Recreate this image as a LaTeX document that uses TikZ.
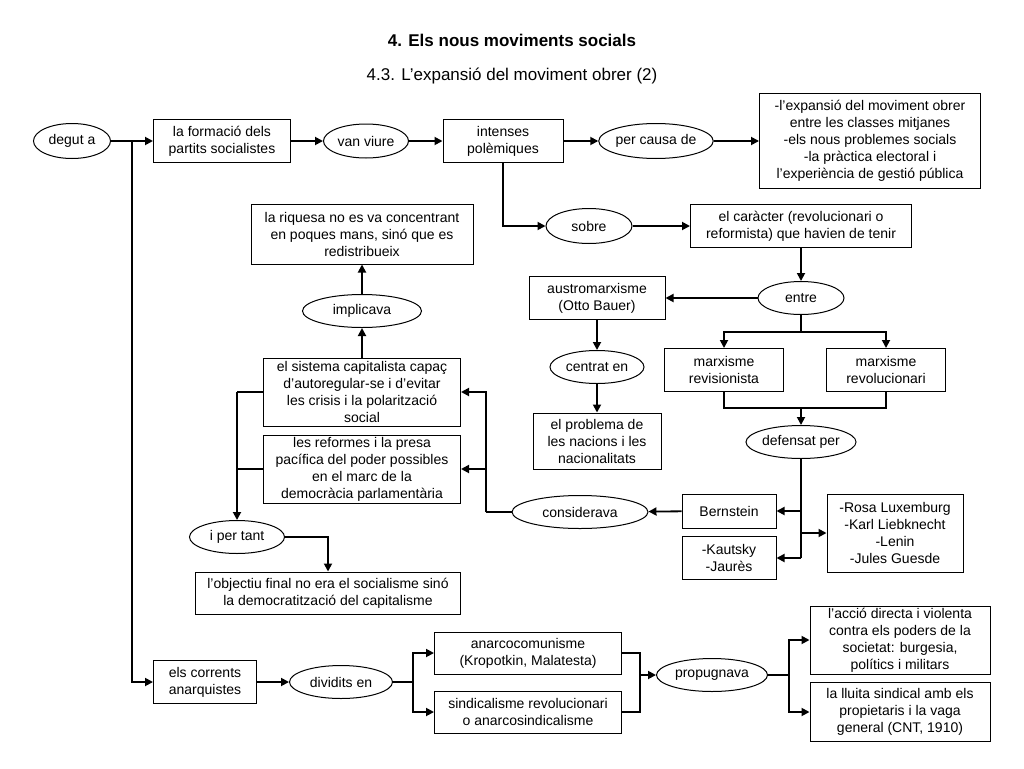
\documentclass[tikz,border=0pt]{standalone}
\usepackage{fontspec}
\setmainfont{Liberation Sans}
\usetikzlibrary{shapes.geometric,arrows.meta}

\tikzset{
  box/.style={draw=black, line width=1pt, align=center, inner sep=1pt, font=\fontsize{14}{17}\selectfont},
  oval/.style={ellipse, draw=black, line width=1pt, align=center, inner sep=0pt, font=\fontsize{14}{17}\selectfont},
  arr/.style={-{Triangle[length=8pt,width=8pt]}, line width=1.8pt},
  con/.style={line width=1.8pt},
}

\begin{document}
\begin{tikzpicture}[x=1pt,y=-1pt]
	\useasboundingbox (0,0) rectangle (1024,768);
	
	\node[font=\fontsize{17}{20}\selectfont\bfseries] (title) at (512,40) {4. Els nous moviments socials};
	\node[font=\fontsize{17}{20}\selectfont] (subtitle) at (512,76) {4.3. L’expansió del moviment obrer (2)};
	
	% top row
	\node[oval, minimum width=77pt, minimum height=35pt] (degut) at (72,141) {degut a};
	\node[box, minimum width=137pt, minimum height=43pt] (form) at (222,141) {la formació dels\\partits socialistes};
	\node[oval, minimum width=85pt, minimum height=34pt] (viure) at (366,141) {van viure};
	\node[box, minimum width=120pt, minimum height=43pt] (inten) at (503,141) {intenses\\polèmiques};
	\node[oval, minimum width=102pt, minimum height=35pt] (causa) at (656,141) {per causa de};
	\node[box, minimum width=221pt, minimum height=95pt] (expans) at (870,141) {-l’expansió del moviment obrer\\entre les classes mitjanes\\-els nous problemes socials\\-la pràctica electoral i\\l’experiència de gestió pública};
	\node[oval, minimum width=86pt, minimum height=35pt] (sobre) at (589,226) {sobre};
	\node[box, minimum width=221pt, minimum height=43pt] (carac) at (801,226) {el caràcter (revolucionari o\\reformista) que havien de tenir};
	
	% left column
	\node[box, minimum width=222pt, minimum height=60pt] (riq) at (362,234) {la riquesa no es va concentrant\\en poques mans, sinó que es\\redistribueix};
	\node[oval, minimum width=119pt, minimum height=33pt] (impl) at (362,311) {implicava};
	\node[box, minimum width=197pt, minimum height=68pt] (sist) at (362,392) {el sistema capitalista capaç\\d’autoregular-se i d’evitar\\les crisis i la polarització\\social};
	\node[box, minimum width=197pt, minimum height=68pt] (refor) at (362,469) {les reformes i la presa\\pacífica del poder possibles\\en el marc de la\\democràcia parlamentària};
	\node[oval, minimum width=95pt, minimum height=33pt] (pertant) at (237,537) {i per tant};
	\node[box, minimum width=265pt, minimum height=42pt] (object) at (328,593) {l’objectiu final no era el socialisme sinó\\la democratització del capitalisme};
	\node[oval, minimum width=136pt, minimum height=33pt] (consid) at (580,512) {considerava};
	
	% marxisms
	\node[box, minimum width=136pt, minimum height=43pt] (austro) at (597,298) {austromarxisme\\(Otto Bauer)};
	\node[oval, minimum width=86pt, minimum height=33pt] (entre) at (801,298) {entre};
	\node[oval, minimum width=94pt, minimum height=33pt] (centr) at (597,367) {centrat en};
	\node[box, minimum width=128pt, minimum height=56pt] (probl) at (597,441) {el problema de\\les nacions i les\\nacionalitats};
	\node[box, minimum width=119pt, minimum height=43pt] (revis) at (724,370) {marxisme\\revisionista};
	\node[box, minimum width=119pt, minimum height=43pt] (revol) at (886,370) {marxisme\\revolucionari};
	\node[oval, minimum width=110pt, minimum height=33pt] (defens) at (801,442) {defensat per};
	\node[box, minimum width=94pt, minimum height=34pt] (berns) at (729,511) {Bernstein};
	\node[box, minimum width=94pt, minimum height=43pt] (kauts) at (729,558) {-Kautsky\\-Jaurès};
	\node[box, minimum width=136pt, minimum height=78pt] (rosa) at (895,533) {-Rosa Luxemburg\\-Karl Liebknecht\\-Lenin\\-Jules Guesde};
	
	% anarchists
	\node[box, minimum width=103pt, minimum height=43pt] (anarq) at (205,682) {els corrents\\anarquistes};
	\node[oval, minimum width=103pt, minimum height=33pt] (divid) at (341,682) {dividits en};
	\node[box, minimum width=187pt, minimum height=42pt] (anarco) at (528,653) {anarcocomunisme\\(Kropotkin, Malatesta)};
	\node[box, minimum width=187pt, minimum height=42pt] (sindic) at (528,712) {sindicalisme revolucionari\\o anarcosindicalisme};
	\node[oval, minimum width=111pt, minimum height=33pt] (propug) at (712,675) {propugnava};
	\node[box, minimum width=180pt, minimum height=68pt] (accio) at (900,640) {l’acció directa i violenta\\contra els poders de la\\societat: burgesia,\\polítics i militars};
	\node[box, minimum width=180pt, minimum height=59pt] (lluita) at (900,712) {la lluita sindical amb els\\propietaris i la vaga\\general (CNT, 1910)};
	
	\coordinate (trunk) at (132,141);
	\coordinate (split) at (801,332);
	\coordinate (join) at (801,408);
	\coordinate (def) at (801,558);
	\coordinate (cons) at (486,512);
	\coordinate (div) at (413,682);
	\coordinate (prop) at (640,675);
	\coordinate (prop2) at (789,675);
	
	\draw[arr] (degut) -- (form);
	\draw[arr] (trunk) |- (anarq);
	\draw[arr] (form) -- (viure);
	\draw[arr] (viure) -- (inten);
	\draw[arr] (inten) -- (causa);
	\draw[arr] (causa) -- (expans);
	\draw[arr] (inten.south) |- (sobre.west);
	\draw[arr] (sobre) -- (carac);
	\draw[arr] (carac) -- (entre);
	\draw[arr] (entre) -- (austro);
	\draw[arr] (austro) -- (centr);
	\draw[arr] (centr) -- (probl);
	\draw[con] (entre) -- (split);
	\draw[arr] (split) -| (revis.north);
	\draw[arr] (split) -| (revol.north);
	\draw[con] (revis.south) |- (join) -| (revol.south);
	\draw[arr] (join) -- (defens);
	\draw[con] (defens) -- (def);
	\draw[arr] (def) -- (kauts.east);
	\draw[arr] (defens.south |- berns) -- (berns.east);
	\draw[arr] (defens.south |- rosa) -- (rosa.west);
	\draw[arr] (berns) -- (consid);
	\draw[con] (consid) -- (cons);
	\draw[arr] (cons) |- (sist.east);
	\draw[arr] (cons) |- (refor.east);
	\draw[arr] (sist) -- (impl);
	\draw[arr] (impl) -- (riq);
	\draw[con] (sist.west) -- (sist.west -| pertant);
	\draw[con] (refor.west) -- (refor.west -| pertant);
	\draw[arr] (sist.west -| pertant) -- (pertant);
	\draw[arr] (pertant.east) -| (object.north);
	
	\draw[arr] (anarq) -- (divid);
	\draw[con] (divid) -- (div);
	\draw[arr] (div) |- (anarco.west);
	\draw[arr] (div) |- (sindic.west);
	\draw[con] (anarco.east) -| (prop) |- (sindic.east);
	\draw[arr] (prop) -- (propug);
	\draw[con] (propug) -- (prop2);
	\draw[arr] (prop2) |- (accio.west);
	\draw[arr] (prop2) |- (lluita.west);
\end{tikzpicture}
\end{document}
